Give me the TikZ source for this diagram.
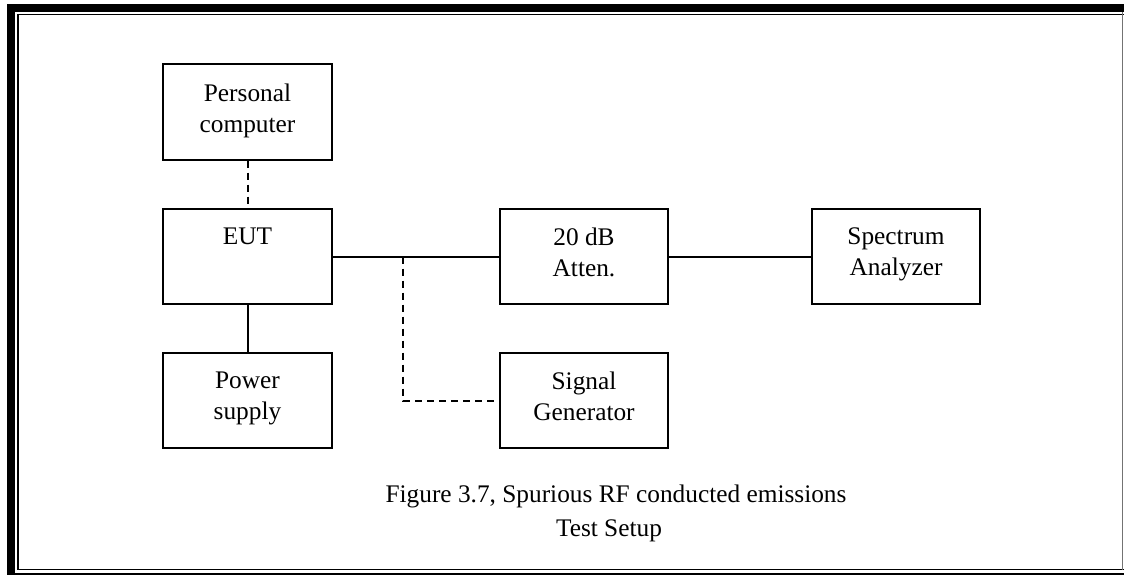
\documentclass[tikz,border=0pt]{standalone}
\usepackage{fontspec}
\setmainfont{Liberation Serif}
\begin{document}
\begin{tikzpicture}[x=0.75pt,y=-0.75pt,
  box/.style={draw, line width=1.5pt, minimum width=126.5pt, minimum height=71.6pt, inner sep=0pt},
  txt/.style={anchor=north, align=center, inner sep=0pt, font=\fontsize{19}{23.25}\selectfont},
  captxt/.style={anchor=base, inner sep=0pt, font=\fontsize{19}{23}\selectfont},
  wire/.style={line width=1.5pt},
  dashwire/.style={line width=1.5pt, dash pattern=on 5.25pt off 3.75pt}]
\useasboundingbox (0,0) rectangle (1124,575);

% page frame: thick band at top and left, thin lines inside and at the bottom
\fill[black] (7,4) rectangle (15,575);
\fill[black] (7,4) rectangle (1124,12);
\draw[line width=1.3pt] (18,569.5) -- (18,14.5) -- (1124,14.5);
\draw[line width=1.3pt] (18,569.5) -- (1124,569.5);
\draw[line width=1pt, black!55] (1122.7,12) -- (1122.7,569.5);
\draw[line width=1.5pt] (7,573.5) -- (1124,573.5);

% equipment boxes
\node[box] (pc)  at (247.5,112)   {};
\node[box] (eut) at (247.5,256.5) {};
\node[box] (ps)  at (247.5,400.5) {};
\node[box] (att) at (584,256.5)   {};
\node[box] (sg)  at (584,400.5)   {};
\node[box] (sa)  at (896,256.5)   {};

% box labels, set from the top of each box
\node[txt, yshift=-15pt] (pc-t)  at (pc.north)  {Personal\\computer};
\node[txt, yshift=-15pt] (eut-t) at (eut.north) {EUT};
\node[txt, yshift=-15pt] (ps-t)  at (ps.north)  {Power\\supply};
\node[txt, yshift=-15pt] (att-t) at (att.north) {20 dB\\Atten.};
\node[txt, yshift=-15pt] (sg-t)  at (sg.north)  {Signal\\Generator};
\node[txt, yshift=-15pt] (sa-t)  at (sa.north)  {Spectrum\\Analyzer};

% connections
\draw[dashwire] (pc.south) -- (eut.north);
\draw[wire] (eut.south) -- (ps.north);
\draw[wire] (eut.east) -- (att.west);
\draw[wire] (att.east) -- (sa.west);
\coordinate (tap) at (403,256.5);
\draw[dashwire] (tap) |- (sg.west);

% caption
\node[captxt] (cap1) at (616,502) {Figure 3.7, Spurious RF conducted emissions};
\node[captxt] (cap2) at (609,536) {Test Setup};
\end{tikzpicture}
\end{document}
